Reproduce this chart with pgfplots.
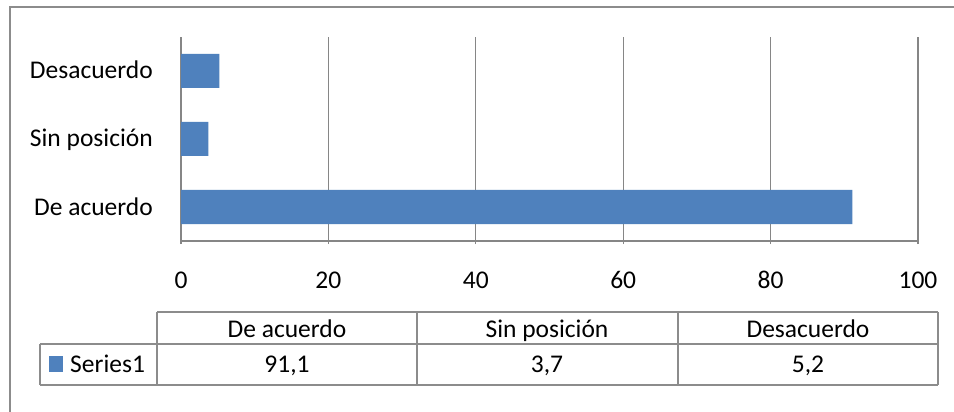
\documentclass[border=0pt]{standalone}
\usepackage{pgfplots}
\pgfplotsset{compat=1.18}
\usepackage{fontspec}
\setmainfont{Carlito}
\definecolor{barblue}{RGB}{79,129,189}
\definecolor{gridgray}{RGB}{134,134,134}
\definecolor{framegray}{RGB}{140,140,140}
\begin{document}
\begin{tikzpicture}[x=1bp,y=1bp]
\useasboundingbox (0,0) rectangle (954,411);
\clip (0,0) rectangle (954,411);
\fill[white] (0,0) rectangle (954,411);
% outer chart frame
\draw[framegray, line width=1.2bp] (10,-20) -- (10,404) -- (980,404);
\begin{axis}[
  at={(181bp,170bp)}, anchor=south west,
  scale only axis, width=737bp, height=204bp,
  xmin=0, xmax=100, ymin=-0.5, ymax=2.5,
  xbar, bar width=34bp, bar shift=0pt,
  xtick={0,20,40,60,80,100},
  ytick={0,1,2},
  yticklabels={De acuerdo, Sin posición, Desacuerdo},
  axis x line*=bottom, axis y line*=left,
  axis line style={gridgray, line width=1.2bp, -},
  xmajorgrids, major grid style={gridgray, line width=1.2bp},
  tick style={gridgray, line width=1.2bp},
  xtick align=outside, major tick length=3bp,
  ytick style={draw=none},
  /pgf/number format/assume math mode=true,
  tick label style={font=\fontsize{25.5bp}{30bp}\selectfont, text=black, inner sep=0pt},
  xticklabel style={anchor=base, yshift=-44bp},
  yticklabel style={anchor=base east, xshift=-25bp, yshift=-8bp},
]
\addplot[fill=barblue, draw=none] coordinates {(91.1,0) (3.7,1) (5.2,2)};
\end{axis}
% data table
\begin{scope}[framegray, line width=1.2bp]
\draw (157,411-312) -- (938,411-312);
\draw (40,411-344) -- (938,411-344);
\draw (40,411-385) -- (938,411-385);
\draw (40,411-344) -- (40,411-385);
\foreach \xx in {157,417,678,938} \draw (\xx,411-312) -- (\xx,411-385);
\end{scope}
\begin{scope}[every node/.style={font=\fontsize{25.5bp}{30bp}\selectfont, inner sep=0pt, anchor=base}]
\node at (287,411-337) {De acuerdo};
\node at (547,411-337) {Sin posición};
\node at (808,411-337) {Desacuerdo};
\node at (287,411-372) {91,1};
\node at (547,411-372) {3,7};
\node at (808,411-372) {5,2};
\node[anchor=base west] at (70,411-372) {Series1};
\end{scope}
\fill[barblue] (49,411-356) rectangle (63,411-372);
\end{tikzpicture}
\end{document}
